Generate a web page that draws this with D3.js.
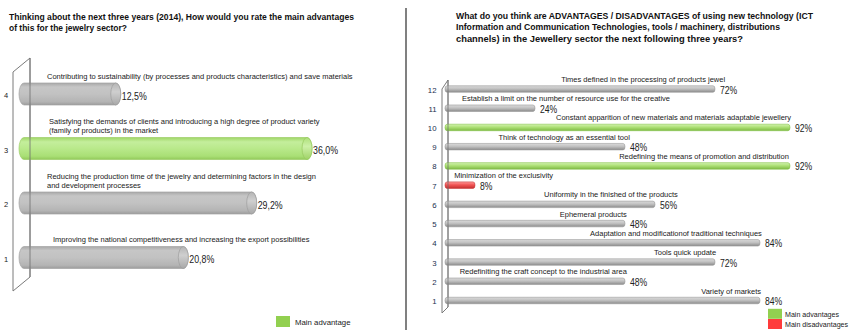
<!DOCTYPE html>
<html>
<head>
<meta charset="utf-8">
<script src="https://cdn.jsdelivr.net/npm/d3@7"></script>
<style>
  body { margin: 0; background: #fff; }
  svg { display: block; }
</style>
</head>
<body>
<svg id="chart" width="850" height="330"></svg>
<script>
// ---------- Left chart: main advantages for the jewelry sector ----------
const leftCats = ["4", "3", "2", "1"];
const leftLabels = [
  ["Contributing to sustainability (by processes and products characteristics) and save materials"],
  ["Satisfying the demands of clients and introducing  a high  degree of product variety", "(family of products) in the market"],
  ["Reducing the production time of the jewelry and determining factors in the design", "and development processes"],
  ["Improving the national competitiveness and increasing the export possibilities"]
];
const leftValues = [12.5, 36.0, 29.2, 20.8];
const leftMain = [false, true, false, false];
const leftTitle = [
  "Thinking about the next three years (2014), How would you rate the main advantages",
  "of this for the jewelry sector?"
];
const leftLegend = ["Main advantage"];

// ---------- Right chart: advantages / disadvantages of new technology ----------
const rightCats = ["12", "11", "10", "9", "8", "7", "6", "5", "4", "3", "2", "1"];
const rightLabels = [
  "Times defined in the processing of products jewel",
  "Establish a limit on the number of resource use for the creative",
  "Constant apparition  of new materials and materials adaptable jewellery",
  "Think of technology  as an essential  tool",
  "Redefining the means of promotion and distribution",
  "Minimization  of the exclusivity",
  "Uniformity in the finished of the products",
  "Ephemeral  products",
  "Adaptation and modificationof traditional techniques",
  "Tools quick update",
  "Redefiniting the craft concept to the industrial area",
  "Variety of markets"
];
const rightValues = [72, 24, 92, 48, 92, 8, 56, 48, 84, 72, 48, 84];
const rightKind = ["none", "none", "adv", "none", "adv", "dis", "none", "none", "none", "none", "none", "none"];
const rightTitle = [
  "What do you think are ADVANTAGES / DISADVANTAGES  of using new technology (ICT",
  "Information and Communication Technologies, tools / machinery, distributions",
  "channels) in the Jewellery sector the next following three years?"
];
const rightLegend = ["Main advantages", "Main disadvantages"];

// Where each category caption ends, in percent along the value axis
const rightLabelEnd = [74.7, 60, 92.3, 49.3, 91.7, 28.8, 62.1, 48.5, 84.5, 72.3, 48.5, 84.3];
// Left caption start offsets (px)
const leftLabelX = [47, 49, 47, 53];

const SANS = "'Liberation Sans',Arial,sans-serif";

// squeeze a text horizontally to mimic a condensed face
function condense(sel, factor) {
  sel.each(function () {
    const w = this.getComputedTextLength();
    d3.select(this).attr("textLength", w * factor).attr("lengthAdjust", "spacingAndGlyphs");
  });
}

const svg = d3.select("#chart");
const defs = svg.append("defs");

function vGrad(id, stops) {
  const g = defs.append("linearGradient").attr("id", id)
    .attr("x1", 0).attr("y1", 0).attr("x2", 0).attr("y2", 1);
  stops.forEach(([o, c]) => g.append("stop").attr("offset", o).attr("stop-color", c));
}
vGrad("lGrey", [[0, "#a8a8a8"], [0.18, "#c6c6c6"], [0.5, "#c2c2c2"], [0.85, "#b4b4b4"], [1, "#9c9c9c"]]);
vGrad("lGreen", [[0, "#9fd667"], [0.2, "#c4ee9c"], [0.5, "#b9e98b"], [0.85, "#a9df75"], [1, "#92c95a"]]);
vGrad("lGreyCap", [[0, "#b5b5b5"], [0.4, "#cfcfcf"], [1, "#a8a8a8"]]);
vGrad("lGreenCap", [[0, "#aee07a"], [0.4, "#cdf1a8"], [1, "#9fd266"]]);
vGrad("rGrey", [[0, "#dadada"], [0.45, "#c2c2c2"], [1, "#8c8c8c"]]);
vGrad("rGreen", [[0, "#d3f3b0"], [0.45, "#aee177"], [1, "#7fba45"]]);
vGrad("rRed", [[0, "#ff9a9a"], [0.45, "#f25656"], [1, "#c43030"]]);

// ===================== LEFT PANEL =====================
const L = svg.append("g");

L.selectAll("text.title").data(leftTitle).join("text")
  .attr("x", 9).attr("y", (d, i) => 19.5 + i * 11.3)
  .attr("font-family", SANS).attr("font-weight", "bold").attr("font-size", 9.6)
  .attr("fill", "#111")
  .attr("textLength", (d, i) => i === 0 ? 345 : 118).attr("lengthAdjust", "spacingAndGlyphs")
  .text(d => d);

const xL = d3.scaleLinear().domain([0, 40]).range([19, 19 + 325.6]);
const yL = d3.scalePoint().domain(leftCats).range([94, 257.5]);
const hL = 22;

// back wall
L.append("path")
  .attr("d", "M13,72 L30,58 L30,277 L13,291 Z")
  .attr("fill", "none").attr("stroke", "#7a7a7a").attr("stroke-width", 1);

const lBars = L.selectAll("g.bar").data(leftCats).join("g").attr("class", "bar");
lBars.append("rect")
  .attr("x", xL(0)).attr("y", d => yL(d) - hL / 2)
  .attr("width", (d, i) => xL(leftValues[i]) - xL(0)).attr("height", hL)
  .attr("rx", 5).attr("ry", hL / 2)
  .attr("fill", (d, i) => leftMain[i] ? "url(#lGreen)" : "url(#lGrey)")
  .attr("stroke", (d, i) => leftMain[i] ? "#9ccd66" : "#a4a4a4").attr("stroke-width", 0.7);
lBars.append("ellipse")
  .attr("cx", (d, i) => xL(leftValues[i]) - 5).attr("cy", d => yL(d))
  .attr("rx", 5).attr("ry", hL / 2)
  .attr("fill", (d, i) => leftMain[i] ? "url(#lGreenCap)" : "url(#lGreyCap)")
  .attr("stroke", (d, i) => leftMain[i] ? "#96c95e" : "#9d9d9d").attr("stroke-width", 0.7);

// front edge of the wall crosses the bars
L.append("line").attr("x1", 30).attr("x2", 30).attr("y1", 58).attr("y2", 277)
  .attr("stroke", "#6f6f6f").attr("stroke-width", 1).attr("opacity", 0.8);

// row numbers
L.selectAll("text.cat").data(leftCats).join("text")
  .attr("x", 6).attr("y", d => yL(d) + 4)
  .attr("text-anchor", "middle").attr("font-family", SANS).attr("font-size", 7.5)
  .attr("fill", "#222").text(d => d);

// captions above bars
leftCats.forEach((c, i) => {
  const lines = leftLabels[i];
  const top = yL(c) - hL / 2;
  L.append("text")
    .attr("font-family", SANS).attr("font-size", 7.5).attr("fill", "#1a1a1a")
    .selectAll("tspan").data(lines).join("tspan")
    .attr("x", leftLabelX[i])
    .attr("y", (d, j) => top - 4.5 - (lines.length - 1 - j) * 8.6)
    .text(d => d);
});

// values
const fmtL = v => d3.format(".1f")(v).replace(".", ",") + "%";
L.selectAll("text.val").data(leftCats).join("text")
  .attr("x", (d, i) => xL(leftValues[i]) + 1).attr("y", d => yL(d) + 5.5)
  .attr("font-family", SANS).attr("font-size", 10.5).attr("fill", "#222")
  .text((d, i) => fmtL(leftValues[i]))
  .call(condense, 0.84);

// legend
L.append("rect").attr("x", 276).attr("y", 316).attr("width", 14).attr("height", 11).attr("fill", "#92d050");
L.append("text").attr("x", 295).attr("y", 325).attr("font-family", SANS).attr("font-size", 7.8)
  .attr("fill", "#222").text(leftLegend[0]);

// panel divider
svg.append("line").attr("x1", 406).attr("x2", 406).attr("y1", 8).attr("y2", 330)
  .attr("stroke", "#808080").attr("stroke-width", 2);

// ===================== RIGHT PANEL =====================
const R = svg.append("g");

R.selectAll("text.title").data(rightTitle).join("text")
  .attr("x", 456).attr("y", (d, i) => 19 + i * 11.4)
  .attr("font-family", SANS).attr("font-weight", "bold").attr("font-size", 9.6)
  .attr("fill", "#111")
  .attr("textLength", (d, i) => [357, 324, 287][i]).attr("lengthAdjust", "spacingAndGlyphs")
  .text(d => d);

const xR = d3.scaleLinear().domain([0, 100]).range([445, 820]);
const yR = d3.scalePoint().domain(rightCats).range([89, 300.5]);
const hR = 6.5;

R.append("path")
  .attr("d", "M442,89 L448,80 L448,307 L442,313 Z")
  .attr("fill", "none").attr("stroke", "#7a7a7a").attr("stroke-width", 1);

const fillR = k => k === "adv" ? "url(#rGreen)" : k === "dis" ? "url(#rRed)" : "url(#rGrey)";
const strokeR = k => k === "adv" ? "#86c24a" : k === "dis" ? "#c93a3a" : "#9a9a9a";

R.selectAll("rect.bar").data(rightCats).join("rect")
  .attr("x", xR(0)).attr("y", d => yR(d) - hR / 2)
  .attr("width", (d, i) => xR(rightValues[i]) - xR(0)).attr("height", hR)
  .attr("rx", 2).attr("ry", hR / 2)
  .attr("fill", (d, i) => fillR(rightKind[i]))
  .attr("stroke", (d, i) => strokeR(rightKind[i])).attr("stroke-width", 0.6);

R.append("line").attr("x1", 448).attr("x2", 448).attr("y1", 80).attr("y2", 307)
  .attr("stroke", "#6f6f6f").attr("stroke-width", 1).attr("opacity", 0.7);

R.selectAll("text.cat").data(rightCats).join("text")
  .attr("x", 436.5).attr("y", d => yR(d) + 3.5)
  .attr("text-anchor", "end").attr("font-family", SANS).attr("font-size", 7.8)
  .attr("fill", "#22304f").text(d => d);

R.selectAll("text.lab").data(rightCats).join("text")
  .attr("x", (d, i) => xR(rightLabelEnd[i])).attr("y", d => yR(d) - 7)
  .attr("text-anchor", "end").attr("font-family", SANS).attr("font-size", 7.5)
  .attr("fill", "#1a1a1a")
  .text((d, i) => rightLabels[i]);

R.selectAll("text.val").data(rightCats).join("text")
  .attr("x", (d, i) => xR(rightValues[i]) + 5).attr("y", d => yR(d) + 4.5)
  .attr("font-family", SANS).attr("font-size", 10).attr("fill", "#222")
  .text((d, i) => rightValues[i] + "%")
  .call(condense, 0.86);

// legend
const legColors = ["#92d050", "#ff3b3b"];
rightLegend.forEach((t, i) => {
  R.append("rect").attr("x", 768).attr("y", 308.8 + i * 10.2).attr("width", 14).attr("height", 10)
    .attr("fill", legColors[i]);
  R.append("text").attr("x", 785).attr("y", 317 + i * 9.8).attr("font-family", SANS)
    .attr("font-size", 7.1).attr("fill", "#222").text(t);
});
</script>
</body>
</html>
